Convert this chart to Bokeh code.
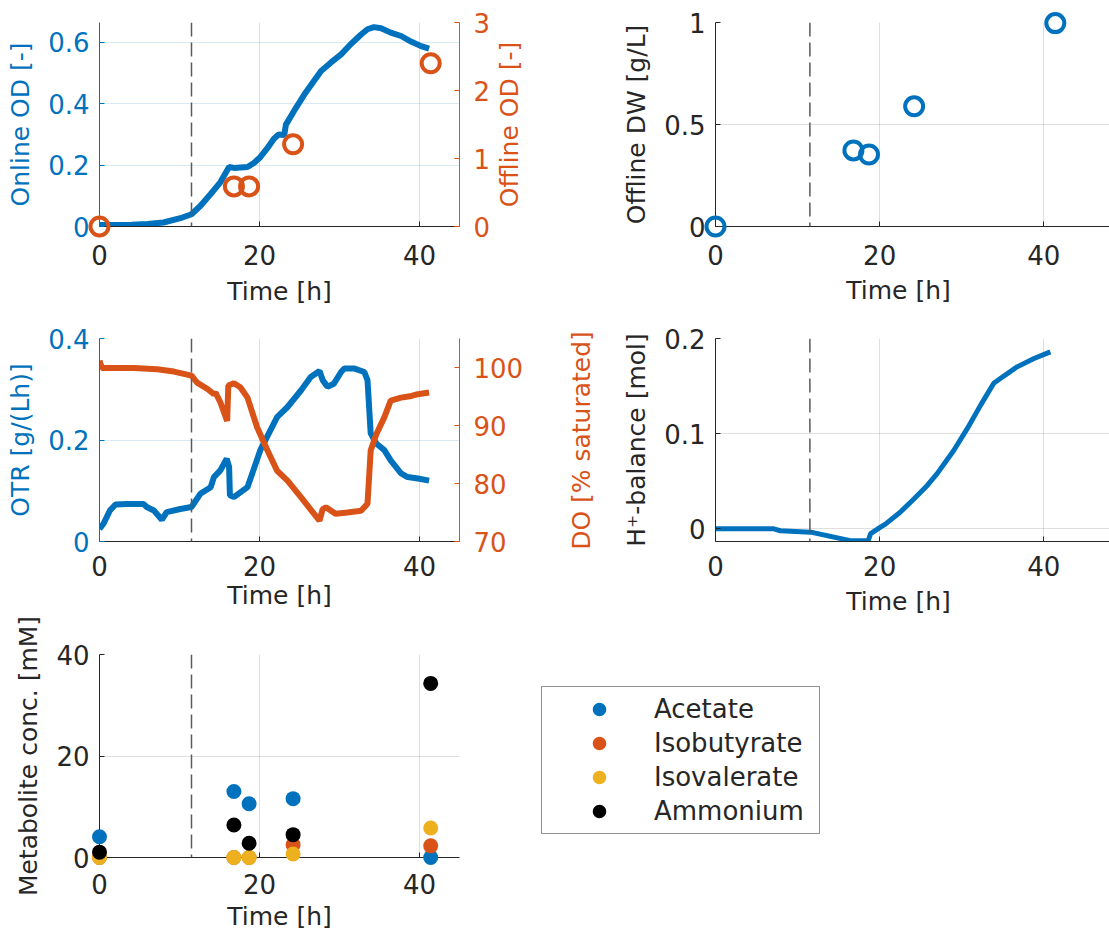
import math
from bokeh.plotting import figure
from bokeh.models import (Range1d, LinearAxis, Span, Legend, LegendItem,
                          FixedTicker, NumeralTickFormatter)
from bokeh.core.properties import value
from bokeh.layouts import row, column
from bokeh.embed import file_html
from bokeh.resources import INLINE

FONT = "DejaVu Sans"
BLUE = "#0072BD"
ORANGE = "#D95319"
YELLOW = "#EDB120"
BLACK = "#000000"
AXC = "#262626"
TICK_FS = "26px"
LABEL_FS = "25px"
LEGEND_FS = "26px"

# ---------------------------------------------------------------- data
induction_time = 11.5  # h, dashed marker in every panel

# offline samples [h]
t_sample = [0.0, 16.8, 18.7, 24.2, 41.4]
offline_od = [0.0, 0.59, 0.59, 1.21, 2.40]
offline_dw = [0.0, 0.373, 0.353, 0.589, 0.997]

# metabolites [mM]
metabolite_names = ["Acetate", "Isobutyrate", "Isovalerate", "Ammonium"]
acetate = [4.1, 13.0, 10.6, 11.6, 0.0]
isobutyrate = [0.0, 0.0, 0.0, 2.5, 2.3]
isovalerate = [0.0, 0.0, 0.0, 0.7, 5.8]
ammonium = [1.05, 6.4, 2.8, 4.5, 34.3]

# online optical density
t_online = [0, 2, 4, 6, 8, 10.1, 11.5, 12.6, 13.9, 15.1, 15.8, 16.2, 16.8,
            18.5, 19.3, 20.1, 21.0, 21.8, 22.4, 23.1, 23.3, 24.3, 25.6, 26.8,
            27.7, 28.9, 30.2, 31.4, 32.7, 33.5, 34.3, 35.2, 36.4, 37.7, 39.0,
            40.2, 41.2]
od_online = [0.005, 0.005, 0.006, 0.008, 0.013, 0.027, 0.040, 0.067, 0.106,
             0.144, 0.176, 0.194, 0.191, 0.194, 0.207, 0.226, 0.256, 0.286,
             0.300, 0.298, 0.332, 0.376, 0.430, 0.474, 0.507, 0.534, 0.561,
             0.594, 0.626, 0.643, 0.650, 0.646, 0.632, 0.621, 0.602, 0.588,
             0.580]

# oxygen transfer rate [g/(L h)]
t_otr = [0, 0.5, 1.3, 2.0, 3.4, 5.5, 5.9, 6.8, 7.8, 8.4, 10.1, 11.5, 12.6,
         13.9, 14.3, 15.1, 15.9, 16.2, 16.3, 16.8, 18.5, 20.1, 22.2, 23.5,
         25.2, 26.4, 27.5, 27.9, 28.5, 29.3, 30.2, 30.6, 31.8, 33.1, 33.5,
         33.9, 34.6, 35.6, 36.4, 37.7, 38.5, 39.8, 41.2]
otr = [0.025, 0.035, 0.061, 0.073, 0.074, 0.074, 0.068, 0.061, 0.043, 0.058,
       0.064, 0.068, 0.094, 0.107, 0.127, 0.140, 0.163, 0.147, 0.091, 0.0875,
       0.107, 0.180, 0.245, 0.265, 0.298, 0.324, 0.336, 0.318, 0.305, 0.311,
       0.334, 0.341, 0.341, 0.334, 0.318, 0.213, 0.193, 0.180, 0.160, 0.134,
       0.127, 0.124, 0.120]

# dissolved oxygen [% saturation]
t_do = [0, 0.3, 4.3, 7.2, 9.3, 11.5, 12.2, 13.5, 14.3, 14.5, 15.1, 15.96,
        16.1, 16.8, 17.6, 18.5, 19.7, 21.0, 22.2, 23.5, 25.2, 26.8, 27.5,
        27.9, 28.3, 29.5, 31.0, 32.7, 33.5, 33.9, 34.6, 35.6, 36.4, 37.7,
        39.0, 39.8, 41.2]
do_sat = [101.2, 99.9, 99.9, 99.7, 99.3, 98.6, 97.4, 96.3, 95.4, 95.7, 94.0,
          90.8, 96.9, 97.3, 96.6, 94.8, 89.7, 85.7, 82.2, 80.5, 77.6, 74.8,
          73.6, 75.6, 75.9, 74.8, 75.0, 75.3, 76.5, 85.7, 88.5, 91.4, 94.3,
          94.8, 95.1, 95.4, 95.7]

# proton balance [mol]
t_h = [0, 7.1, 7.9, 11.6, 16.0, 16.4, 18.6, 18.9, 20.1, 20.7, 22.5, 24.2,
       25.8, 27.0, 29.0, 30.65, 32.3, 33.9, 34.7, 36.7, 38.8, 40.8]
h_balance = [0.0, 0.0, -0.002, -0.0035, -0.0116, -0.0125, -0.0125, -0.005,
             0.0018, 0.005, 0.0175, 0.0316, 0.0456, 0.058, 0.082, 0.105,
             0.13, 0.153, 0.158, 0.17, 0.179, 0.186]

x_ticks = [0, 20, 40]


# ---------------------------------------------------------------- helpers
def make_fig(frame_w, frame_h, left, right, top, bottom, x_end, y0, y1):
    p = figure(frame_width=frame_w, frame_height=frame_h,
               min_border_left=left, min_border_right=right,
               min_border_top=top, min_border_bottom=bottom,
               x_range=Range1d(0, x_end), y_range=Range1d(y0, y1),
               output_backend="svg", toolbar_location=None)
    p.outline_line_color = None
    p.background_fill_color = "white"
    p.border_fill_color = "white"
    return p


def style_axis(ax, color, ticks, label, label_standoff, tick_standoff):
    ax.ticker = FixedTicker(ticks=ticks)
    ax.formatter = NumeralTickFormatter(format="0.[0]")
    ax.axis_label = label
    ax.axis_line_color = color
    ax.axis_line_width = 1
    ax.major_tick_line_color = color
    ax.major_tick_in = 5
    ax.major_tick_out = 0
    ax.minor_tick_line_color = None
    ax.major_label_text_color = color
    ax.major_label_text_font = FONT
    ax.major_label_text_font_size = TICK_FS
    ax.major_label_standoff = tick_standoff
    ax.axis_label_text_color = color
    ax.axis_label_text_font = FONT
    ax.axis_label_text_font_size = LABEL_FS
    ax.axis_label_text_font_style = "normal"
    ax.axis_label_standoff = label_standoff


def style_grid(p, y_ticks, y_color):
    p.xgrid.ticker = FixedTicker(ticks=x_ticks)
    p.xgrid.grid_line_color = AXC
    p.xgrid.grid_line_alpha = 0.15
    p.ygrid.ticker = FixedTicker(ticks=y_ticks)
    p.ygrid.grid_line_color = y_color
    p.ygrid.grid_line_alpha = 0.15


def outside_title(p, text, dx, dy, color, angle=0.0, y_range_name="default"):
    """Axis title drawn beside the frame; dx, dy are pixel offsets from the
    frame's bottom-left corner, converted through the figure's ranges."""
    xr = p.x_range
    yr = p.y_range if y_range_name == "default" else p.extra_y_ranges[y_range_name]
    x = xr.start + dx * (xr.end - xr.start) / p.frame_width
    y = yr.start + dy * (yr.end - yr.start) / p.frame_height
    p.text(x=[x], y=[y], text=[text], angle=angle, text_align="center",
           text_baseline="middle", text_font=value(FONT),
           text_font_size=value(LABEL_FS), text_color=color,
           y_range_name=y_range_name, level="overlay")


def add_induction(p):
    p.add_layout(Span(location=induction_time, dimension="height",
                      line_color="#5a5a5a", line_width=1.5,
                      line_dash="14 6"))


# ---------------------------------------------------------------- panel 1: OD
p1 = make_fig(360, 204, 99, 141, 22, 92, 45, 0, 0.665)
p1.extra_y_ranges = {"offline": Range1d(0, 3)}
style_axis(p1.xaxis[0], AXC, x_ticks, "Time [h]", 9, 18)
style_axis(p1.yaxis[0], BLUE, [0, 0.2, 0.4, 0.6], "Online OD [-]", 10, 10)
ax1r = LinearAxis(y_range_name="offline")
style_axis(ax1r, ORANGE, [0, 1, 2, 3], None, 0, 14)
p1.add_layout(ax1r, "right")
outside_title(p1, "Offline OD [-]", 410, 102, ORANGE, math.pi / 2, "offline")
style_grid(p1, [0.2, 0.4, 0.6], BLUE)
add_induction(p1)
p1.line(t_online, od_online, line_color=BLUE, line_width=6)
p1.scatter(t_sample, offline_od, y_range_name="offline", marker="circle",
           size=18, fill_color=None, line_color=ORANGE, line_width=4,
           level="overlay")

# ---------------------------------------------------------------- panel 2: DW
p2 = make_fig(394, 204, 115, 0, 22, 92, 48, 0, 1)
style_axis(p2.xaxis[0], AXC, x_ticks, None, 0, 18)
outside_title(p2, "Time [h]", 183, -64, AXC)
style_axis(p2.yaxis[0], AXC, [0, 0.5, 1], "Offline DW [g/L]", 10, 10)
style_grid(p2, [0.5, 1], AXC)
add_induction(p2)
p2.scatter(t_sample, offline_dw, marker="circle", size=18, fill_color=None,
           line_color=BLUE, line_width=4, level="overlay")

# ---------------------------------------------------------------- panel 3: OTR / DO
p3 = make_fig(360, 203, 99, 141, 20, 75, 45, 0, 0.4)
p3.extra_y_ranges = {"do": Range1d(70, 105)}
style_axis(p3.xaxis[0], AXC, x_ticks, "Time [h]", 2, 14)
style_axis(p3.yaxis[0], BLUE, [0, 0.2, 0.4], "OTR [g/(Lh)]", 10, 10)
ax3r = LinearAxis(y_range_name="do")
style_axis(ax3r, ORANGE, [70, 80, 90, 100], None, 0, 14)
p3.add_layout(ax3r, "right")
outside_title(p3, "DO [% saturated]", 482, 101, ORANGE, math.pi / 2, "do")
style_grid(p3, [0.2, 0.4], BLUE)
add_induction(p3)
p3.line(t_otr, otr, line_color=BLUE, line_width=6)
p3.line(t_do, do_sat, y_range_name="do", line_color=ORANGE, line_width=6)

# ---------------------------------------------------------------- panel 4: H+ balance
p4 = make_fig(394, 203, 115, 0, 20, 75, 48, -0.0133, 0.2)
style_axis(p4.xaxis[0], AXC, x_ticks, None, 0, 14)
outside_title(p4, "Time [h]", 183, -60, AXC)
style_axis(p4.yaxis[0], AXC, [0, 0.1, 0.2], "H\u207a-balance [mol]", 10, 10)
style_grid(p4, [0, 0.1, 0.2], AXC)
add_induction(p4)
p4.line(t_h, h_balance, line_color=BLUE, line_width=5)

# ---------------------------------------------------------------- panel 5: metabolites
p5 = make_fig(360, 203, 99, 650, 38, 77, 45, 0, 40)
style_axis(p5.xaxis[0], AXC, x_ticks, "Time [h]", 5, 16)
style_axis(p5.yaxis[0], AXC, [0, 20, 40], "Metabolite conc. [mM]", 10, 10)
style_grid(p5, [20, 40], AXC)
add_induction(p5)
met_colors = [BLUE, ORANGE, YELLOW, BLACK]
items = []
for name, vals, c in zip(metabolite_names,
                         [acetate, isobutyrate, isovalerate, ammonium],
                         met_colors):
    r = p5.scatter(t_sample, vals, marker="circle", size=15, fill_color=c,
                   line_color=None, level="overlay")
    items.append(LegendItem(label=name, renderers=[r]))

legend = Legend(items=items, location=(82, 23), padding=5, spacing=0,
                glyph_width=104, glyph_height=34, label_height=34,
                label_width=160, label_standoff=3,
                label_text_font=FONT, label_text_font_size=LEGEND_FS,
                label_text_color=AXC, border_line_color=AXC,
                border_line_width=1.3, background_fill_color="white",
                margin=0)
p5.add_layout(legend, "right")

layout = column(row(p1, p2), row(p3, p4), p5)

open("out.html", "w").write(file_html(layout, INLINE))
